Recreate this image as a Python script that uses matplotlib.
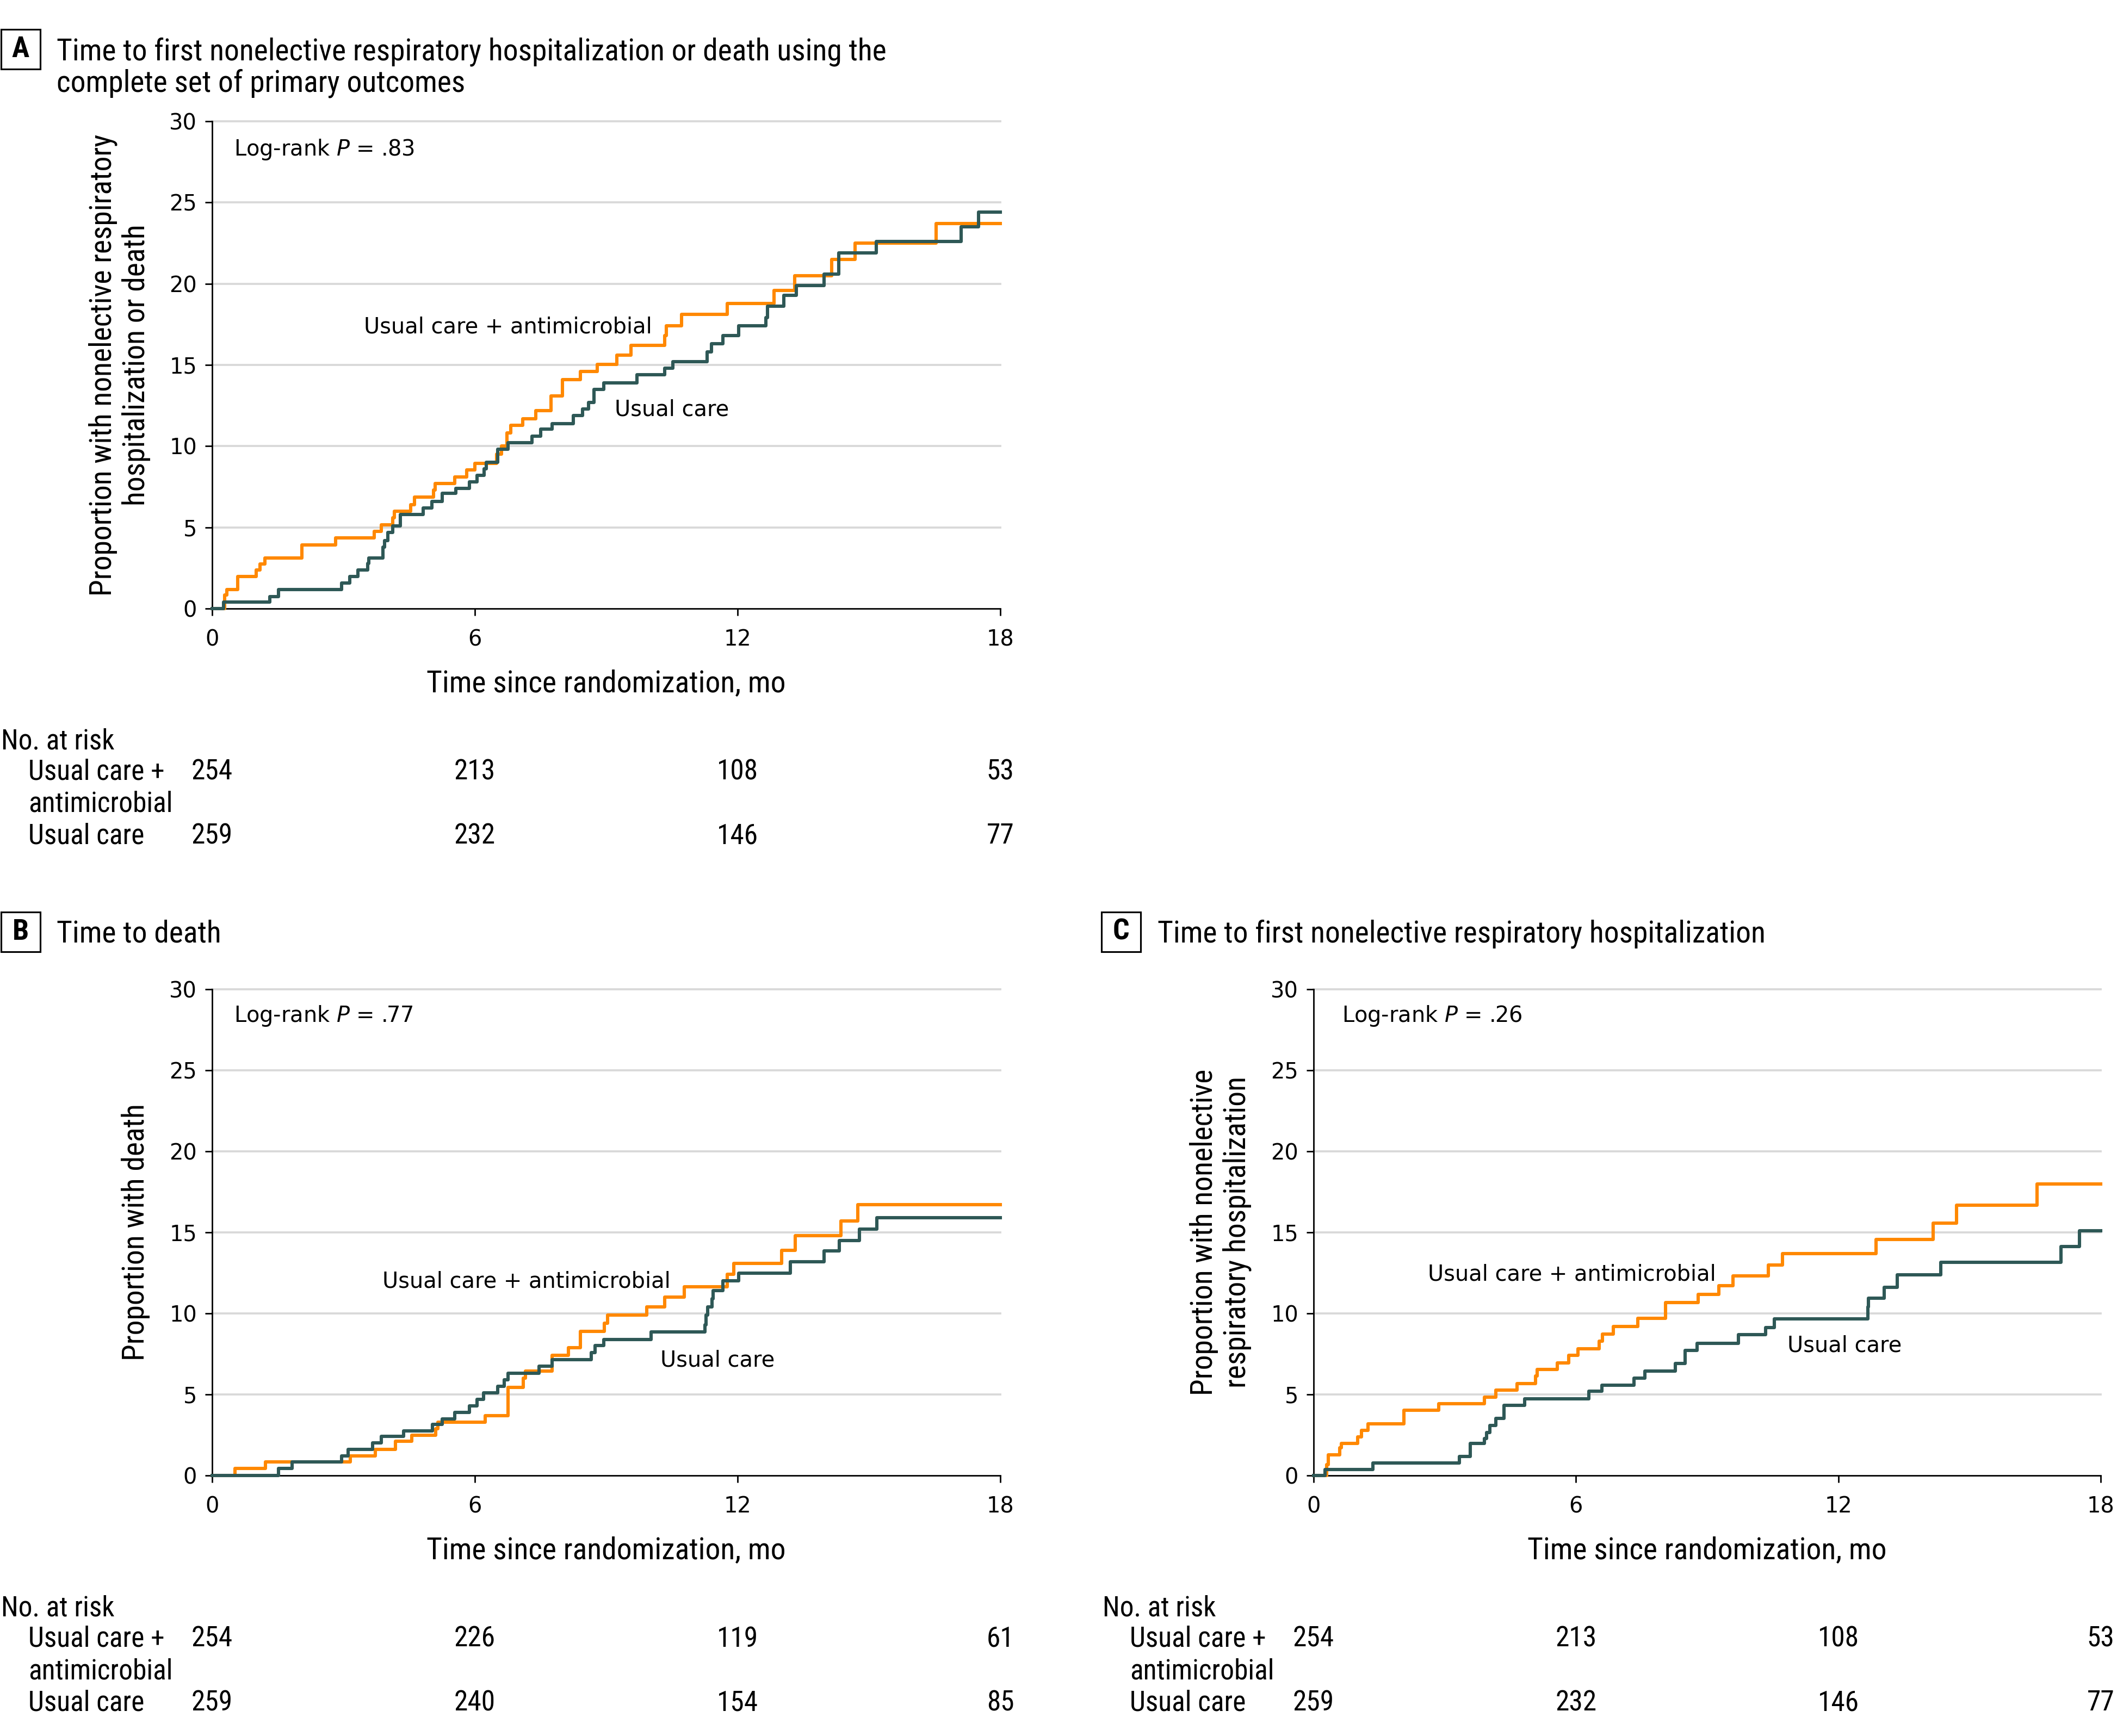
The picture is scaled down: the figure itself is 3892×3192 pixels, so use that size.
import matplotlib
matplotlib.use("Agg")
import matplotlib.pyplot as plt
from matplotlib import font_manager, transforms
from matplotlib.font_manager import FontProperties
from matplotlib.patches import Rectangle

# ---- data (months, cumulative %) ----
a_uca_t = [0, 0.28, 0.33, 0.58, 1.0, 1.09, 1.2, 2.05, 2.82, 3.7, 3.86, 4.12, 4.16, 4.53, 4.62,
           5.06, 5.09, 5.54, 5.81, 6.0, 6.5, 6.61, 6.73, 6.82, 7.09, 7.39, 7.74, 8.0, 8.41, 8.8,
           9.24, 9.56, 10.33, 10.37, 10.72, 11.77, 12.83, 13.3, 14.15, 14.68, 16.53, 18.0]
a_uca_v = [0, 0.85, 1.16, 1.97, 2.37, 2.75, 3.12, 3.93, 4.34, 4.75, 5.15, 5.6, 6.0, 6.4, 6.85,
           7.3, 7.7, 8.1, 8.55, 8.95, 9.5, 10.0, 10.8, 11.3, 11.7, 12.2, 13.1, 14.1, 14.6, 15.05,
           15.6, 16.2, 16.8, 17.4, 18.1, 18.8, 19.6, 20.5, 21.5, 22.5, 23.7, 23.7]
a_uc_t = [0, 0.26, 1.32, 1.52, 2.96, 3.14, 3.33, 3.55, 3.58, 3.9, 3.94, 4.01, 4.12, 4.3, 4.82,
          5.02, 5.25, 5.56, 5.88, 6.05, 6.21, 6.26, 6.52, 6.76, 7.31, 7.5, 7.77, 8.25, 8.46, 8.6,
          8.72, 8.95, 9.7, 10.33, 10.52, 11.31, 11.4, 11.66, 12.03, 12.65, 12.68, 13.05, 13.34,
          13.98, 14.31, 15.17, 17.1, 17.5, 18.0]
a_uc_v = [0, 0.4, 0.75, 1.16, 1.56, 1.97, 2.37, 2.78, 3.1, 3.8, 4.2, 4.7, 5.1, 5.8, 6.2,
          6.6, 7.1, 7.4, 7.8, 8.2, 8.6, 9.0, 9.8, 10.2, 10.6, 11.05, 11.4, 11.9, 12.3, 12.7,
          13.5, 13.9, 14.4, 14.8, 15.2, 15.8, 16.3, 16.8, 17.4, 17.9, 18.6, 19.3, 19.9,
          20.6, 21.9, 22.6, 23.5, 24.4, 24.4]

b_uca_t = [0, 0.52, 1.22, 3.15, 3.73, 4.19, 4.56, 5.1, 5.16, 6.23, 6.76, 7.11, 7.15, 7.77,
           8.14, 8.41, 8.96, 9.03, 9.93, 10.33, 10.78, 11.77, 11.91, 13.01, 13.32, 14.36, 14.75, 18.0]
b_uca_v = [0, 0.43, 0.83, 1.22, 1.62, 2.1, 2.5, 2.9, 3.3, 3.7, 5.45, 6.0, 6.45, 7.4,
           7.9, 8.9, 9.4, 9.9, 10.4, 11.0, 11.65, 12.4, 13.1, 13.9, 14.8, 15.7, 16.7, 16.7]
b_uc_t = [0, 1.52, 1.83, 2.96, 3.11, 3.67, 3.86, 4.37, 5.03, 5.25, 5.54, 5.88, 6.05, 6.2,
          6.52, 6.67, 6.76, 7.47, 7.77, 8.66, 8.75, 8.94, 10.02, 11.25, 11.28, 11.32, 11.41,
          11.44, 11.66, 12.02, 13.21, 13.97, 14.32, 14.78, 15.18, 18.0]
b_uc_v = [0, 0.43, 0.83, 1.22, 1.62, 2.0, 2.4, 2.75, 3.15, 3.5, 3.9, 4.3, 4.7, 5.1,
          5.5, 5.9, 6.3, 6.75, 7.15, 7.57, 8.03, 8.4, 8.85, 9.3, 9.9, 10.4, 10.9,
          11.4, 12.0, 12.5, 13.2, 13.85, 14.5, 15.2, 15.9, 15.9]

c_uca_t = [0, 0.3, 0.34, 0.6, 0.63, 1.01, 1.1, 1.25, 2.07, 2.86, 3.9, 4.17, 4.65, 5.07, 5.11,
           5.57, 5.84, 6.05, 6.53, 6.61, 6.85, 7.42, 8.05, 8.8, 9.27, 9.59, 10.4, 10.72, 12.86,
           14.17, 14.7, 16.54, 18.0]
c_uca_v = [0, 0.67, 1.28, 1.7, 1.99, 2.39, 2.8, 3.2, 4.02, 4.42, 4.83, 5.27, 5.68, 6.15, 6.55,
           6.96, 7.42, 7.83, 8.28, 8.72, 9.19, 9.7, 10.67, 11.16, 11.72, 12.33, 12.98, 13.69, 14.56,
           15.58, 16.69, 17.97, 17.97]
c_uc_t = [0, 0.26, 1.35, 3.34, 3.58, 3.9, 3.96, 4.03, 4.17, 4.35, 4.83, 6.3, 6.59, 7.33, 7.57,
          8.27, 8.5, 8.77, 9.71, 10.34, 10.54, 12.67, 12.69, 13.05, 13.35, 14.34, 17.09, 17.51, 18.0]
c_uc_v = [0, 0.37, 0.77, 1.18, 1.99, 2.29, 2.64, 3.1, 3.51, 4.32, 4.73, 5.19, 5.58, 6.0, 6.45,
          6.9, 7.73, 8.17, 8.68, 9.13, 9.66, 10.4, 10.95, 11.62, 12.37, 13.14, 14.12, 15.11, 15.11]

risk_times = [0, 6, 12, 18]
a_risk_uca = [254, 213, 108, 53]
a_risk_uc = [259, 232, 146, 77]
b_risk_uca = [254, 226, 119, 61]
b_risk_uc = [259, 240, 154, 85]
c_risk_uca = [254, 213, 108, 53]
c_risk_uc = [259, 232, 146, 77]

x_ticks = [0, 6, 12, 18]
y_ticks = [0, 5, 10, 15, 20, 25, 30]

ORANGE = "#FF8800"
TEAL = "#2E5856"
GRID = "#D9D9D9"

W, H, DPI = 3892, 3192, 250


def pick_condensed():
    fl = font_manager.fontManager.ttflist
    names = {f.name for f in fl}
    for n in ["Liberation Sans Narrow", "Roboto Condensed", "Open Sans Condensed",
              "Noto Sans Condensed", "DejaVu Sans Condensed"]:
        if n in names:
            return n, "normal"
    for fam in ["Noto Sans", "Roboto", "Open Sans", "DejaVu Sans"]:
        for f in fl:
            if f.name == fam and f.stretch in ("condensed", "semi-condensed", "extra-condensed"):
                return fam, "condensed"
    return "DejaVu Sans", "condensed"


cfam, cstretch = pick_condensed()
COND = FontProperties(family=cfam, stretch=cstretch, size=16)
RISK = FontProperties(family=cfam, stretch=cstretch, size=14.8)
COND_B = FontProperties(family=cfam, stretch=cstretch, size=15.5, weight="bold")


def fx(px):
    return px / W


def fy(py):
    return 1 - py / H


fig = plt.figure(figsize=(W / DPI, H / DPI), dpi=DPI)


def panel(rect_px, uca, uc, notes, risk):
    l, t, r, b = rect_px
    ax = fig.add_axes([fx(l), fy(b), (r - l) / W, (b - t) / H])
    ax.set_xlim(0, 18)
    ax.set_ylim(0, 30)
    ax.set_xticks(x_ticks)
    ax.set_yticks(y_ticks)
    for y in y_ticks[1:]:
        ax.axhline(y, color=GRID, lw=1.1, zorder=0, clip_on=False)
    for s in ["top", "right"]:
        ax.spines[s].set_visible(False)
    for s in ["left", "bottom"]:
        ax.spines[s].set_linewidth(0.8)
    ax.tick_params(direction="out", length=3.7, width=0.8, labelsize=11.5)
    ax.tick_params(axis="y", pad=4.3)
    ax.tick_params(axis="x", pad=7)
    ax.step(uca[0], uca[1], where="post", color=ORANGE, lw=1.75, clip_on=False, zorder=3)
    ax.step(uc[0], uc[1], where="post", color=TEAL, lw=1.75, clip_on=False, zorder=4)
    for (x, y, s) in notes:
        ax.text(x, y, s, fontsize=11.5, ha="left", va="baseline")
    # x label and numbers at risk
    fig.text(fx((l + r) / 2), fy(b + 153), "Time since randomization, mo",
             ha="center", va="baseline", fontproperties=COND)
    x0 = l - 388
    fig.text(fx(x0), fy(b + 258), "No. at risk", ha="left", va="baseline", fontproperties=RISK)
    fig.text(fx(x0 + 50), fy(b + 315), "Usual care +", ha="left", va="baseline", fontproperties=RISK)
    fig.text(fx(x0 + 50), fy(b + 374), "antimicrobial", ha="left", va="baseline", fontproperties=RISK)
    fig.text(fx(x0 + 50), fy(b + 432), "Usual care", ha="left", va="baseline", fontproperties=RISK)
    blend = transforms.blended_transform_factory(ax.transData, fig.transFigure)
    for tt, n1, n2 in zip(risk_times, risk[0], risk[1]):
        ax.text(tt, fy(b + 315), str(n1), transform=blend, ha="center", va="baseline",
                fontproperties=RISK, clip_on=False)
        ax.text(tt, fy(b + 432), str(n2), transform=blend, ha="center", va="baseline",
                fontproperties=RISK, clip_on=False)
    return ax


def tag(x, y, letter):
    fig.patches.append(Rectangle((fx(x), fy(y + 73)), 72 / W, 73 / H, fill=False,
                                 edgecolor="black", lw=0.9, transform=fig.transFigure))
    fig.text(fx(x + 36), fy(y + 36.5), letter, ha="center", va="center", fontproperties=COND_B)


# Panel A
panel((390, 223, 1839, 1119), (a_uca_t, a_uca_v), (a_uc_t, a_uc_v),
      [(0.5, 27.9, "Log-rank $\\mathit{P}$ = .83"),
       (3.47, 16.97, "Usual care + antimicrobial"),
       (9.19, 11.88, "Usual care")],
      (a_risk_uca, a_risk_uc))
tag(2, 54, "A")
fig.text(fx(104), fy(110), "Time to first nonelective respiratory hospitalization or death using the",
         ha="left", va="baseline", fontproperties=COND)
fig.text(fx(104), fy(168), "complete set of primary outcomes",
         ha="left", va="baseline", fontproperties=COND)
fig.text(fx(220), fy(671), "Proportion with nonelective respiratory\nhospitalization or death",
         rotation=90, ha="center", va="center", multialignment="center", linespacing=1.2,
         fontproperties=COND)

# Panel B
panel((390, 1819, 1839, 2713), (b_uca_t, b_uca_v), (b_uc_t, b_uc_v),
      [(0.5, 27.99, "Log-rank $\\mathit{P}$ = .77"),
       (3.89, 11.6, "Usual care + antimicrobial"),
       (10.24, 6.74, "Usual care")],
      (b_risk_uca, b_risk_uc))
tag(2, 1677, "B")
fig.text(fx(104), fy(1732), "Time to death", ha="left", va="baseline", fontproperties=COND)
fig.text(fx(250), fy(2266), "Proportion with death", rotation=90, ha="center", va="center",
         fontproperties=COND)

# Panel C
panel((2415, 1819, 3862, 2713), (c_uca_t, c_uca_v), (c_uc_t, c_uc_v),
      [(0.65, 28.0, "Log-rank $\\mathit{P}$ = .26"),
       (2.61, 12.03, "Usual care + antimicrobial"),
       (10.83, 7.62, "Usual care")],
      (c_risk_uca, c_risk_uc))
tag(2025, 1677, "C")
fig.text(fx(2128), fy(1732), "Time to first nonelective respiratory hospitalization",
         ha="left", va="baseline", fontproperties=COND)
fig.text(fx(2244), fy(2266), "Proportion with nonelective\nrespiratory hospitalization",
         rotation=90, ha="center", va="center", multialignment="center", linespacing=1.2,
         fontproperties=COND)

fig.savefig("out.png", dpi=DPI)
